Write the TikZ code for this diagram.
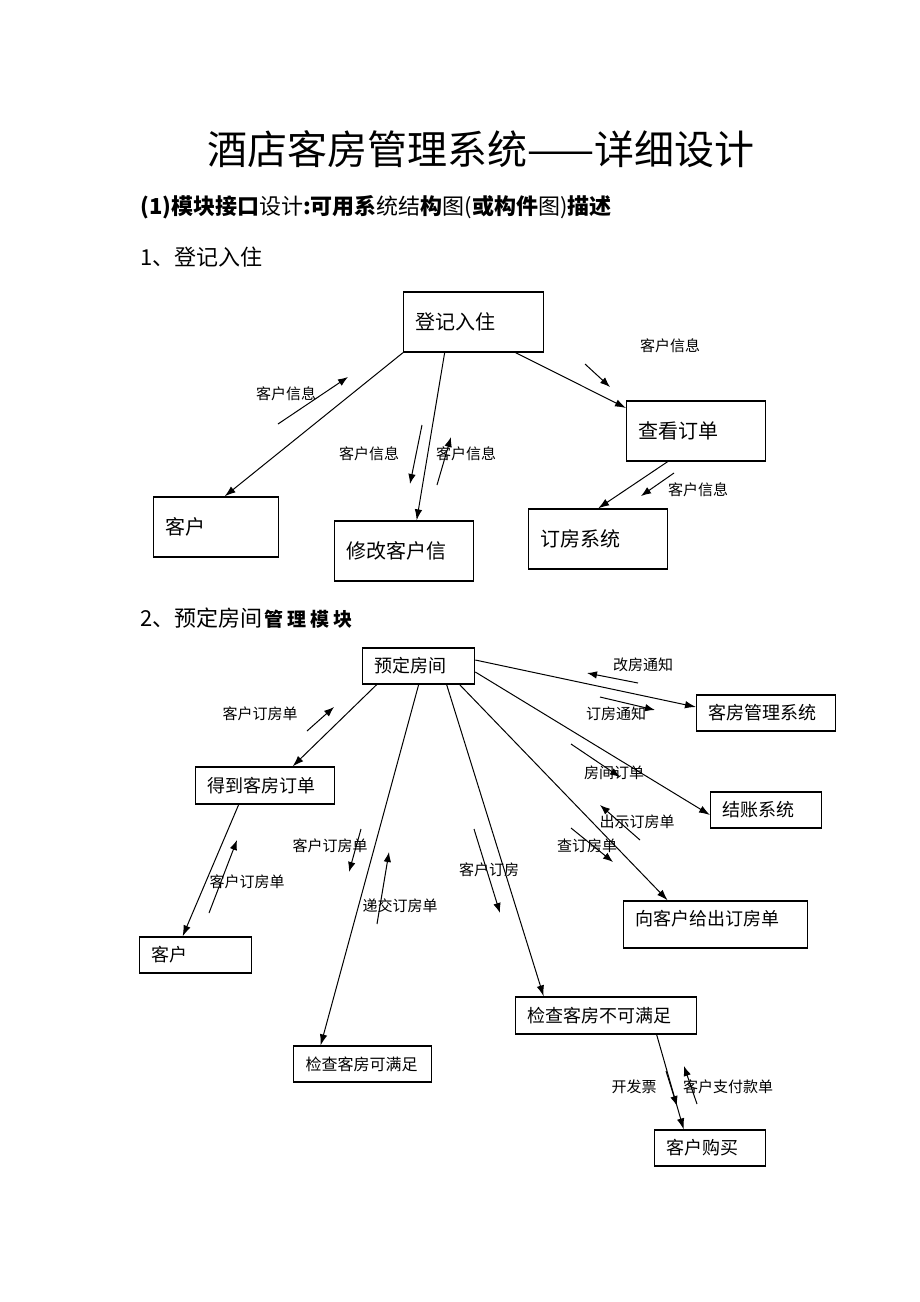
\documentclass[tikz,border=0pt]{standalone}
\usepackage{fontspec}
\newfontfamily\cjk{Noto Sans CJK SC}
\usetikzlibrary{arrows.meta}

\tikzset{
    unit/.style={draw, line width=1.3pt, anchor=west, align=left, inner xsep=12pt, inner ysep=0pt,
        font=\cjk\fontsize{20}{24}\selectfont},
    unitsm/.style={unit, font=\cjk\fontsize{18}{22}\selectfont},
    lbl/.style={inner sep=0pt, font=\cjk\fontsize{15}{18}\selectfont},
    flow/.style={line width=1pt, -{Latex[length=11pt,width=7.5pt]}},
    msg/.style={line width=1pt, -{Latex[length=10pt,width=7.5pt]}},
}

\begin{document}
\begin{tikzpicture}[x=1pt, y=-1pt]
    \useasboundingbox (0,0) rectangle (920,1302);
    % headings
    \node[inner sep=0pt, font=\cjk\fontsize{40}{44}\selectfont] (title) at (481,149) {酒店客房管理系统——详细设计};
    \node[inner sep=0pt, anchor=west, font=\cjk\fontsize{22}{26}\selectfont] (head1) at (140,207)
        {\textbf{(1)模块接口}设计\textbf{:可用系}统结\textbf{构}图(\textbf{或构件}图)\textbf{描述}};
    \node[inner sep=0pt, anchor=west, font=\cjk\fontsize{22}{26}\selectfont] (sec1) at (140,257) {1、登记入住};
    \node[inner sep=0pt, anchor=west, font=\cjk\fontsize{22}{26}\selectfont] (sec2) at (140,618)
        {2、预定房间\hspace{2pt}{\fontsize{19}{22}\selectfont\textbf{管\hspace{4pt}理\hspace{4pt}模\hspace{4pt}块}}};

    % part 1
    \node[unit, text width=116pt, minimum height=60pt] (dj) at (403,322) {登记入住};
    \node[unit, text width=115pt, minimum height=60pt] (ck) at (626,431) {查看订单};
    \node[unit, text width=101pt, minimum height=60pt] (kh) at (153,527) {客户};
    \node[unit, text width=115pt, minimum height=60pt] (xg) at (334,551) {修改客户信};
    \node[unit, text width=115pt, minimum height=60pt] (df) at (528,539) {订房系统};
    \path (dj.south west) edge[flow] ([xshift=8.5pt]kh.north);
    \path ([xshift=-29pt]dj.south) edge[flow] ([xshift=12.5pt]xg.north);
    \path ([xshift=42pt]dj.south) edge[flow] ([yshift=23pt]ck.west);
    \path ([xshift=-28.5pt]ck.south) edge[flow] (df.north);

    \coordinate (m1s) at (278,424); \coordinate (m1e) at (348,377);
    \coordinate (m2s) at (585,364); \coordinate (m2e) at (610,387);
    \coordinate (m3s) at (422,425); \coordinate (m3e) at (410,484);
    \coordinate (m4s) at (437,485); \coordinate (m4e) at (451,437);
    \coordinate (m5s) at (674,473); \coordinate (m5e) at (641,496);
    \draw[msg] (m1s) -- (m1e);
    \draw[msg] (m2s) -- (m2e);
    \draw[msg] (m3s) -- (m3e);
    \draw[msg] (m4s) -- (m4e);
    \draw[msg] (m5s) -- (m5e);
    \node[lbl] (l1) at (286,394) {客户信息};
    \node[lbl] (l2) at (670,346) {客户信息};
    \node[lbl] (l3) at (369,454) {客户信息};
    \node[lbl] (l4) at (466,454) {客户信息};
    \node[lbl] (l5) at (698,490) {客户信息};

    % part 2
    \node[unitsm, text width=88pt, minimum height=36pt] (yd) at (362,666) {预定房间};
    \node[unitsm, text width=115pt, minimum height=36pt] (kf) at (696,713) {客房管理系统};
    \node[unitsm, text width=115pt, minimum height=37pt] (dd) at (195,785.5) {得到客房订单};
    \node[unitsm, text width=87pt, minimum height=36pt] (jz) at (710,810) {结账系统};
    \node[unitsm, text width=88pt, minimum height=36pt] (kh2) at (139,955) {客户};
    \node[unitsm, text width=160pt, minimum height=47pt, text depth=14pt] (xk) at (623,924.5) {向客户给出订房单};
    \node[unitsm, text width=157pt, minimum height=37pt] (bk) at (515,1015.5) {检查客房不可满足};
    \node[unitsm, text width=114pt, minimum height=36pt, font=\cjk\fontsize{16}{20}\selectfont] (kk) at (293,1064) {检查客房可满足};
    \node[unitsm, text width=87pt, minimum height=36pt] (gm) at (654,1148) {客户购买};
    \path ([yshift=6pt]yd.east) edge[flow] ([yshift=6pt]kf.west);
    \path ([yshift=-6pt]yd.east) edge[flow] ([yshift=-5pt]jz.west);
    \path ([xshift=41pt]yd.south) edge[flow] ([xshift=-48pt]xk.north);
    \path ([xshift=-42pt]yd.south) edge[flow] ([xshift=27.5pt]dd.north);
    \path (yd.south) edge[flow] ([xshift=-42pt]kk.north);
    \path ([xshift=28pt]yd.south) edge[flow] ([xshift=-62.5pt]bk.north);
    \path ([xshift=-26.5pt]dd.south) edge[flow] ([xshift=-13pt]kh2.north);
    \path ([xshift=50.5pt]bk.south) edge[flow] ([xshift=-26.5pt]gm.north);

    \coordinate (n1s) at (638,683); \coordinate (n1e) at (587,673);
    \coordinate (n2s) at (600,697); \coordinate (n2e) at (655,710);
    \coordinate (n3s) at (307,731); \coordinate (n3e) at (334,707);
    \coordinate (n4s) at (571,744); \coordinate (n4e) at (620,777);
    \coordinate (n5s) at (640,840); \coordinate (n5e) at (600,805);
    \coordinate (n6s) at (571,828); \coordinate (n6e) at (613,862);
    \coordinate (n7s) at (361,829); \coordinate (n7e) at (349,872);
    \coordinate (n8s) at (377,924); \coordinate (n8e) at (389,852);
    \coordinate (n9s) at (474,829); \coordinate (n9e) at (500,913);
    \coordinate (n10s) at (209,913); \coordinate (n10e) at (237,840);
    \coordinate (n11s) at (666,1071); \coordinate (n11e) at (677,1106);
    \coordinate (n12s) at (697,1104); \coordinate (n12e) at (684,1066);
    \foreach \i in {1,...,12} {
        \draw[msg] (n\i s) -- (n\i e);
    }
    \node[lbl] (k1) at (643,665) {改房通知};
    \node[lbl] (k2) at (616,714) {订房通知};
    \node[lbl] (k3) at (260,714) {客户订房单};
    \node[lbl] (k4) at (614,773) {房间订单};
    \node[lbl] (k5) at (637,822) {出示订房单};
    \node[lbl] (k6) at (587,846) {查订房单};
    \node[lbl] (k7) at (330,846) {客户订房单};
    \node[lbl] (k8) at (400,906) {递交订房单};
    \node[lbl] (k9) at (489,870) {客户订房};
    \node[lbl] (k10) at (247,882) {客户订房单};
    \node[lbl] (k11) at (634,1087) {开发票};
    \node[lbl] (k12) at (728,1087) {客户支付款单};
\end{tikzpicture}
\end{document}
